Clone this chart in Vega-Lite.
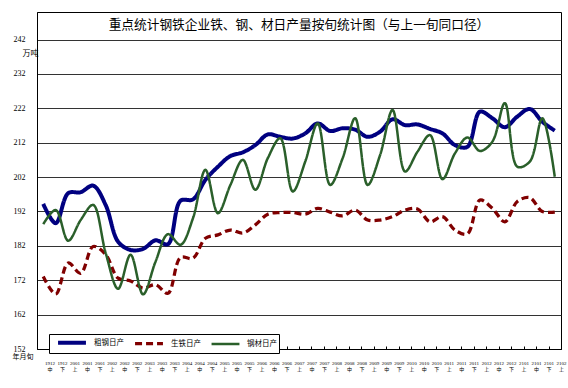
{
  "$schema": "https://vega.github.io/schema/vega-lite/v6.json",
  "width": 524,
  "height": 337,
  "autosize": {"type": "none"},
  "padding": {"left": 37, "top": 12, "right": 7, "bottom": 39},
  "background": "white",
  "title": {
    "text": "重点统计钢铁企业铁、钢、材日产量按旬统计图（与上一旬同口径）",
    "font": "Noto Sans CJK SC",
    "fontSize": 12.7,
    "fontWeight": "normal",
    "color": "#000",
    "anchor": "middle",
    "orient": "top",
    "baseline": "middle",
    "offset": -14,
    "dy": 12
  },
  "config": {
    "view": {"stroke": "#000", "strokeWidth": 1},
    "axis": {"gridColor": "#333", "gridOpacity": 1, "gridWidth": 1, "domainColor": "#000"}
  },
  "data": {
    "values": [
      {"p": "1912中", "粗钢日产": 194.2, "生铁日产": 173.1, "钢材日产": 188.3},
      {"p": "1912下", "粗钢日产": 188.6, "生铁日产": 168.0, "钢材日产": 192.4},
      {"p": "2001上", "粗钢日产": 197.3, "生铁日产": 177.0, "钢材日产": 183.5},
      {"p": "2001中", "粗钢日产": 197.6, "生铁日产": 174.0, "钢材日产": 189.5},
      {"p": "2001下", "粗钢日产": 199.5, "生铁日产": 181.8, "钢材日产": 193.9},
      {"p": "2002上", "粗钢日产": 193.9, "生铁日产": 179.5, "钢材日产": 180.0},
      {"p": "2002中", "粗钢日产": 183.2, "生铁日产": 172.6, "钢材日产": 169.5},
      {"p": "2002下", "粗钢日产": 180.8, "生铁日产": 171.8, "钢材日产": 179.4},
      {"p": "2003上", "粗钢日产": 181.1, "生铁日产": 169.7, "钢材日产": 167.9},
      {"p": "2003中", "粗钢日产": 183.6, "生铁日产": 170.7, "钢材日产": 177.4},
      {"p": "2003下", "粗钢日产": 182.5, "生铁日产": 168.2, "钢材日产": 185.4},
      {"p": "2004上", "粗钢日产": 195.1, "生铁日产": 178.6, "钢材日产": 182.3},
      {"p": "2004中", "粗钢日产": 195.5, "生铁日产": 178.4, "钢材日产": 190.0},
      {"p": "2004下", "粗钢日产": 201.2, "生铁日产": 184.2, "钢材日产": 204.1},
      {"p": "2005上", "粗钢日产": 205.0, "生铁日产": 185.2, "钢材日产": 191.5},
      {"p": "2005中", "粗钢日产": 208.1, "生铁日产": 186.6, "钢材日产": 199.7},
      {"p": "2005下", "粗钢日产": 209.2, "生铁日产": 185.7, "钢材日产": 207.0},
      {"p": "2006上", "粗钢日产": 211.3, "生铁日产": 188.1, "钢材日产": 198.3},
      {"p": "2006中", "粗钢日产": 214.4, "生铁日产": 191.2, "钢材日产": 207.5},
      {"p": "2006下", "粗钢日产": 213.7, "生铁日产": 191.7, "钢材日产": 213.3},
      {"p": "2007上", "粗钢日产": 213.2, "生铁日产": 191.7, "钢材日产": 197.8},
      {"p": "2007中", "粗钢日产": 214.7, "生铁日产": 191.2, "钢材日产": 206.5},
      {"p": "2007下", "粗钢日产": 217.6, "生铁日产": 192.9, "钢材日产": 217.6},
      {"p": "2008上", "粗钢日产": 215.4, "生铁日产": 191.8, "钢材日产": 199.7},
      {"p": "2008中", "粗钢日产": 216.2, "生铁日产": 190.7, "钢材日产": 207.5},
      {"p": "2008下", "粗钢日产": 215.8, "生铁日产": 192.4, "钢材日产": 219.1},
      {"p": "2009上", "粗钢日产": 213.7, "生铁日产": 189.5, "钢材日产": 199.7},
      {"p": "2009中", "粗钢日产": 215.2, "生铁日产": 189.5, "钢材日产": 208.4},
      {"p": "2009下", "粗钢日产": 218.8, "生铁日产": 190.5, "钢材日产": 221.5},
      {"p": "2010上", "粗钢日产": 217.1, "生铁日产": 192.4, "钢材日产": 203.6},
      {"p": "2010中", "粗钢日产": 217.3, "生铁日产": 192.7, "钢材日产": 209.4},
      {"p": "2010下", "粗钢日产": 216.0, "生铁日产": 189.0, "钢材日产": 214.2},
      {"p": "2011上", "粗钢日产": 214.7, "生铁日产": 190.5, "钢材日产": 201.4},
      {"p": "2011中", "粗钢日产": 211.3, "生铁日产": 186.6, "钢材日产": 208.9},
      {"p": "2011下", "粗钢日产": 210.8, "生铁日产": 185.5, "钢材日产": 213.5},
      {"p": "2012上", "粗钢日产": 221.0, "生铁日产": 195.3, "钢材日产": 209.6},
      {"p": "2012中", "粗钢日产": 219.1, "生铁日产": 192.9, "钢材日产": 212.3},
      {"p": "2012下", "粗钢日产": 216.5, "生铁日产": 189.0, "钢材日产": 223.5},
      {"p": "2101上", "粗钢日产": 219.6, "生铁日产": 194.9, "钢材日产": 205.0},
      {"p": "2101中", "粗钢日产": 221.8, "生铁日产": 196.0, "钢材日产": 206.5},
      {"p": "2101下", "粗钢日产": 218.1, "生铁日产": 192.0, "钢材日产": 219.1},
      {"p": "2102上", "粗钢日产": 215.5, "生铁日产": 191.8, "钢材日产": 202.1}
    ]
  },
  "transform": [
    {"fold": ["粗钢日产", "生铁日产", "钢材日产"], "as": ["series", "value"]}
  ],
  "mark": {"type": "line", "interpolate": "catmull-rom"},
  "encoding": {
    "x": {
      "field": "p",
      "type": "ordinal",
      "sort": null,
      "scale": {"type": "point", "padding": 0.5},
      "axis": {
        "title": "年月旬",
        "titleX": -4,
        "titleY": 7,
        "titleAlign": "right",
        "titleBaseline": "middle",
        "titleFont": "Liberation Serif, Noto Sans CJK SC",
        "titleFontSize": 7,
        "titleFontWeight": "normal",
        "titleColor": "#000",
        "labelAngle": 0,
        "labelExpr": "[substring(datum.label, 0, 4), substring(datum.label, 4)]",
        "labelFont": "Liberation Serif, Noto Sans CJK SC",
        "labelFontSize": 5,
        "labelColor": "#000",
        "labelLineHeight": 6,
        "labelPadding": 14,
        "labelOverlap": false,
        "labelBound": false,
        "labelFlush": false,
        "tickSize": -3,
        "tickOffset": 6.24,
        "tickColor": "#000",
        "domainColor": "#000"
      }
    },
    "y": {
      "field": "value",
      "type": "quantitative",
      "scale": {"domain": [152, 250], "nice": false, "zero": false},
      "axis": {
        "values": [152, 162, 172, 182, 192, 202, 212, 222, 232, 242],
        "title": "万吨",
        "titleAngle": 0,
        "titleX": 1,
        "titleY": 41,
        "titleAlign": "right",
        "titleBaseline": "middle",
        "titleFont": "Liberation Serif, Noto Sans CJK SC",
        "titleFontSize": 8,
        "titleFontWeight": "normal",
        "titleColor": "#000",
        "labelFont": "Liberation Serif",
        "labelFontSize": 8,
        "labelColor": "#000",
        "labelPadding": 12,
        "tickSize": 0,
        "domainColor": "#000"
      }
    },
    "color": {
      "field": "series",
      "type": "nominal",
      "scale": {"domain": ["粗钢日产", "生铁日产", "钢材日产"], "range": ["#000080", "#800000", "#2a5f2a"]},
      "legend": {
        "title": null,
        "orient": "none",
        "legendX": 12,
        "legendY": 322,
        "direction": "horizontal",
        "strokeColor": "#000",
        "fillColor": "#fff",
        "padding": 2,
        "symbolType": "M-3.1,0H3.1",
        "symbolSize": 81,
        "symbolOffset": 14.5,
        "labelOffset": 15.5,
        "labelFont": "Noto Sans CJK SC",
        "labelFontSize": 7.5,
        "labelColor": "#000",
        "columnPadding": 4
      }
    },
    "strokeDash": {
      "field": "series",
      "type": "nominal",
      "scale": {"domain": ["粗钢日产", "生铁日产", "钢材日产"], "range": [[1, 0], [7, 4], [1, 0]]}
    },
    "strokeWidth": {
      "field": "series",
      "type": "nominal",
      "scale": {"domain": ["粗钢日产", "生铁日产", "钢材日产"], "range": [4, 2.5, 1]}
    }
  }
}
